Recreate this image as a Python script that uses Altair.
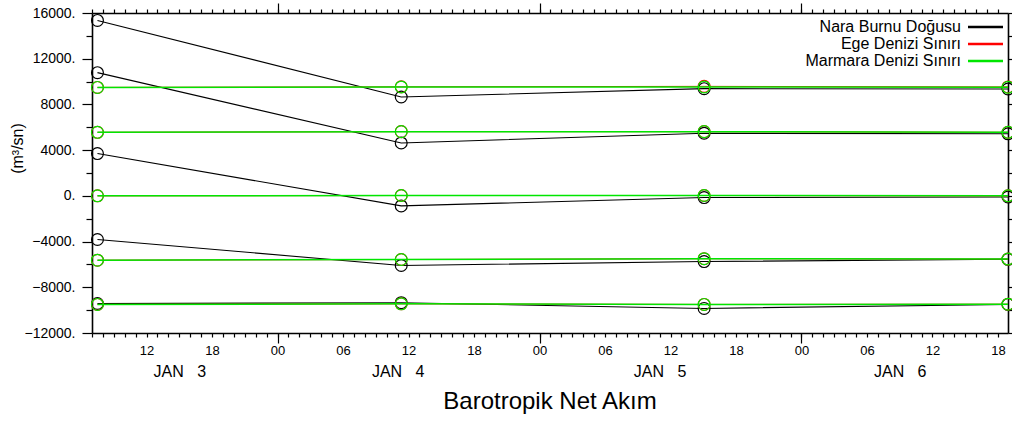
import altair as alt
import pandas as pd

# ---------------- data ----------------
series_names = ["Nara Burnu Doğusu", "Ege Denizi Sınırı", "Marmara Denizi Sınırı"]
series_colors = ["#000000", "#ff0000", "#00e600"]
series_widths = [1.1, 1.0, 1.5]

# time of each sample, in hours after JAN 3 00:00
times_h = [7.5, 35.33, 63.08, 90.92]

nara = [
    [15350, 8650, 9380, 9350],
    [10780, 4630, 5480, 5430],
    [3700, -880, -150, -100],
    [-3820, -6090, -5750, -5550],
    [-9420, -9350, -9850, -9500],
]
ege = [
    [9490, 9540, 9580, 9530],
    [5560, 5620, 5620, 5560],
    [0, 30, 30, 0],
    [-5630, -5570, -5500, -5530],
    [-9500, -9450, -9500, -9480],
]
marmara = [
    [9490, 9530, 9530, 9500],
    [5560, 5620, 5620, 5560],
    [0, 30, 30, 0],
    [-5630, -5570, -5500, -5530],
    [-9500, -9450, -9500, -9480],
]

# axis tick positions / labels
x_domain = [7, 90.92]
hour_ticks = list(range(7, 91))            # minor ticks, every hour
midnight_ticks = [24, 48, 72]              # major ticks
label_ticks = [12, 18, 24, 30, 36, 42, 48, 54, 60, 66, 72, 78, 84, 90]
day_label_pos = [15, 35, 59, 81]           # JAN 3 .. JAN 6

y_major = [-12000, -8000, -4000, 0, 4000, 8000, 12000, 16000]
y_minor = [-10000, -6000, -2000, 2000, 6000, 10000, 14000]

rows = []
for name, block in zip(series_names, [nara, ege, marmara]):
    for ci, curve in enumerate(block):
        for t, v in zip(times_h, curve):
            rows.append({"series": name, "curve": ci, "t": t, "value": v})
df = pd.DataFrame(rows)

FONT = "Liberation Sans"

# ---------------- axes ----------------
common = dict(grid=False, title=None, tickColor="black", domainColor="black",
              tickWidth=1.2, domainWidth=1.6, labelColor="black")

axA = alt.Axis(orient="bottom", values=hour_ticks, labels=False, ticks=True,
               tickSize=4, domain=True, **common)
axB = alt.Axis(orient="bottom", values=midnight_ticks, labels=False,
               ticks=True, tickSize=10, domain=False, **common)
axC = alt.Axis(orient="bottom", values=label_ticks, labels=True,
               labelExpr="(datum.value % 24 < 10 ? '0' : '') + (datum.value % 24)",
               ticks=False, tickSize=0, domain=False, labelPadding=11,
               labelFontSize=13, labelFont=FONT, labelOverlap=False,
               labelFlush=False, **common)
axD = alt.Axis(orient="bottom", values=day_label_pos,
               labelExpr="'JAN\u00a0\u00a0\u00a0' + (3 + floor(datum.value / 24))",
               ticks=False, tickSize=0, domain=False, labelPadding=30,
               labelFontSize=16, labelFont=FONT, labelOverlap=False,
               labelFlush=False, **common)
axE = alt.Axis(orient="top", values=hour_ticks, labels=False, ticks=True,
               tickSize=4, domain=True, **common)
axF = alt.Axis(orient="top", values=midnight_ticks, labels=False, ticks=True,
               tickSize=10, domain=False, **common)

ycommon = dict(grid=False, tickColor="black", domainColor="black",
               tickWidth=1.2, domainWidth=1.6, labelColor="black")
axG = alt.Axis(orient="left", values=y_major, tickSize=10,
               labelExpr="format(datum.value, 'd') + '.'",
               labelFontSize=14, labelFont=FONT, labelPadding=7,
               labelOverlap=False, labelFlush=False,
               domain=True, title="(m³/sn)", titleFontSize=16,
               titleFont=FONT, titleFontWeight="normal", titleColor="black",
               titleAngle=270, titleX=-75, titleY=135,
               titleAlign="center", titleBaseline="middle",
               **ycommon)
axH = alt.Axis(orient="left", values=y_minor, tickSize=6, labels=False,
               domain=False, title=None, **ycommon)
axI = alt.Axis(orient="right", values=y_major, tickSize=10, labels=False,
               domain=True, title=None, **ycommon)
axJ = alt.Axis(orient="right", values=y_minor, tickSize=6, labels=False,
               domain=False, title=None, **ycommon)

color_scale = alt.Scale(domain=series_names, range=series_colors)
x_scale = alt.Scale(domain=x_domain, nice=False, zero=False)
y_scale = alt.Scale(domain=[-12000, 16000], nice=False, zero=False)

# legend: line sample to the right of right-aligned label
legend = alt.Legend(orient="none", legendX=885, legendY=5.5, title=None,
                    symbolType="M-2.5,0H2.5", symbolSize=196,
                    symbolStrokeWidth=2.5, symbolFillColor="transparent",
                    labelAlign="right", labelOffset={"expr": "-33"},
                    symbolOffset=0, labelBaseline="middle",
                    labelFontSize=16, labelFont=FONT, labelColor="black",
                    rowPadding=0, padding=0, labelLimit=400)


def make_layer(idx, kind, xaxis, yaxis, leg=None):
    series = series_names[idx]
    base = alt.Chart(df).transform_filter(alt.datum.series == series)
    enc = dict(
        x=alt.X("t:Q", scale=x_scale, axis=xaxis),
        y=alt.Y("value:Q", scale=y_scale, axis=yaxis),
        color=alt.Color("series:N", scale=color_scale, legend=leg),
    )
    if kind == "line":
        return base.mark_line(strokeWidth=series_widths[idx]).encode(
            detail="curve:N", **enc)
    return base.mark_point(shape="circle", filled=False, size=140,
                           strokeWidth=1.2, opacity=1).encode(**enc)


layers = [
    make_layer(0, "line", axA, axG, legend),
    make_layer(0, "point", axB, axH),
    make_layer(1, "line", axC, axI),
    make_layer(1, "point", axD, axJ),
    make_layer(2, "line", axE, None),
    make_layer(2, "point", axF, None),
]

chart = (
    alt.layer(*layers)
    .resolve_axis(x="independent", y="independent")
    .properties(
        width=916, height=320,
        autosize=alt.AutoSizeParams(type="none"),
        padding={"left": 92, "top": 13, "right": 4, "bottom": 88},
        title=alt.TitleParams("Barotropik Net Akım", orient="bottom",
                              fontSize=24, fontWeight="normal", font=FONT,
                              color="black", anchor="middle", offset=11),
    )
    .configure(font=FONT, background="white")
    .configure_view(stroke=None)
)

chart.save("out.html", embed_options={"renderer": "svg", "actions": False})
